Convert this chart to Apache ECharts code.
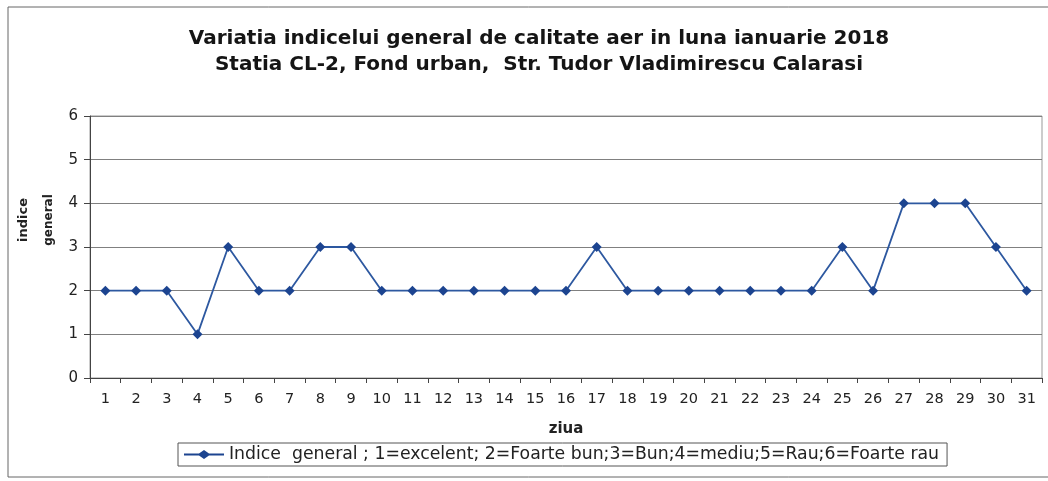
<!DOCTYPE html>
<html><head><meta charset="utf-8">
<script src="https://cdn.jsdelivr.net/npm/echarts@6/dist/echarts.min.js"></script>
<style>html,body{margin:0;padding:0;background:#fff}#c{width:1048px;height:481px}</style>
</head><body><div id="c"></div>
<script>
const titleLines = ["Variatia indicelui general de calitate aer in luna ianuarie 2018", "Statia CL-2, Fond urban,  Str. Tudor Vladimirescu Calarasi"];
const days = ["1","2","3","4","5","6","7","8","9","10","11","12","13","14","15","16","17","18","19","20","21","22","23","24","25","26","27","28","29","30","31"];
const indiceGeneral = [2,2,2,1,3,2,2,3,3,2,2,2,2,2,2,2,3,2,2,2,2,2,2,2,3,2,4,4,4,3,2];
const seriesName = "Indice  general ; 1=excelent; 2=Foarte bun;3=Bun;4=mediu;5=Rau;6=Foarte rau";
const xName = "ziua";
const yNameLines = ["indice", "general"];

const F = "'DejaVu Sans', sans-serif";
const chart = echarts.init(document.getElementById('c'));
chart.setOption({
  animation: false,
  backgroundColor: '#fff',
  title: {
    text: titleLines.join('\n'),
    left: 534, top: 21, textAlign: 'center',
    textStyle: {fontFamily: F, fontWeight: 'bold', fontSize: 20, lineHeight: 26, color: '#151515'}
  },
  grid: {left: 90, right: 6, top: 116, bottom: 103, show: true, borderColor: '#999', borderWidth: 1},
  legend: {
    bottom: 15, left: 178,
    itemWidth: 40, itemHeight: 9, itemGap: 5,
    borderColor: '#555', borderWidth: 1, padding: [3, 8, 3, 6],
    textStyle: {fontFamily: F, fontSize: 17.3, color: '#222'},
    data: [{name: seriesName, icon: 'path://M0,3.6 L15,3.6 L20,0 L25,3.6 L40,3.6 L40,5.4 L25,5.4 L20,9 L15,5.4 L0,5.4 Z'}]
  },
  xAxis: {
    type: 'category', data: days, boundaryGap: true,
    name: xName, nameLocation: 'middle', nameGap: 44,
    nameTextStyle: {fontFamily: F, fontWeight: 'bold', fontSize: 15, color: '#222'},
    axisLine: {lineStyle: {color: '#444'}},
    axisTick: {show: true, alignWithLabel: false, length: 5, lineStyle: {color: '#444'}},
    axisLabel: {fontFamily: F, fontSize: 14.5, color: '#222', margin: 14, interval: 0}
  },
  yAxis: {
    type: 'value', min: 0, max: 6, interval: 1,
    axisLine: {show: true, lineStyle: {color: '#444'}},
    axisTick: {show: true, length: 6, lineStyle: {color: '#444'}},
    axisLabel: {fontFamily: F, fontSize: 15, color: '#222', margin: 12},
    splitLine: {lineStyle: {color: '#808080', width: 1}}
  },
  graphic: [
    {type: 'text', x: 24, y: 220, rotation: Math.PI/2, style: {text: yNameLines[0], fontFamily: F, fontWeight: 'bold', fontSize: 13, fill: '#222', align: 'center', verticalAlign: 'middle'}},
    {type: 'text', x: 49, y: 220, rotation: Math.PI/2, style: {text: yNameLines[1], fontFamily: F, fontWeight: 'bold', fontSize: 12, fill: '#222', align: 'center', verticalAlign: 'middle'}},
    {type: 'rect', shape: {x: 8, y: 7, width: 1050, height: 470}, style: {fill: 'none', stroke: '#666', lineWidth: 1}, silent: true, z: -1}
  ],
  series: [{
    name: seriesName, type: 'line', data: indiceGeneral,
    symbol: 'diamond', symbolSize: 10,
    lineStyle: {color: '#2d58a0', width: 1.8},
    itemStyle: {color: '#1c4490'}
  }]
});
</script></body></html>
